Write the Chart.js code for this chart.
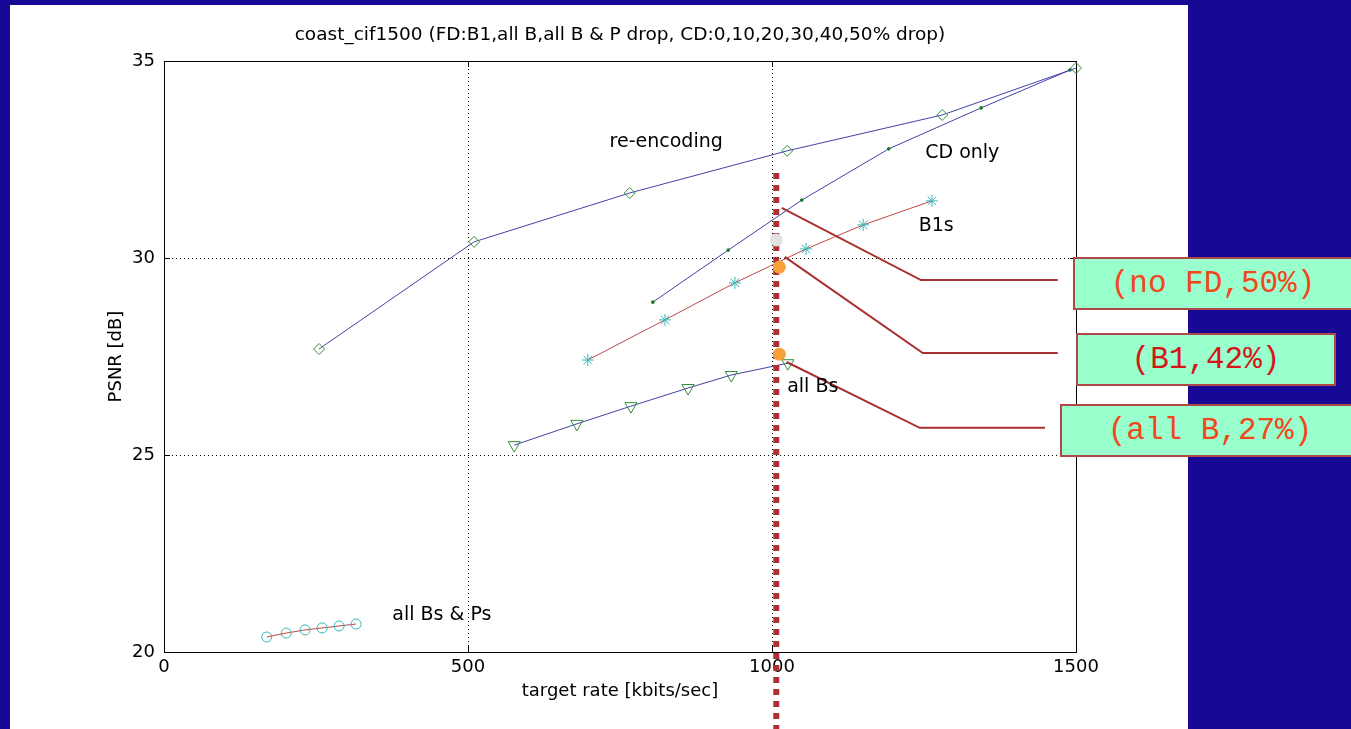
<!DOCTYPE html>
<html>
<head>
<meta charset="utf-8">
<title>coast_cif1500</title>
<script src="https://cdn.jsdelivr.net/npm/chart.js@4.4.0/dist/chart.umd.min.js"></script>
<style>
  html, body { margin: 0; padding: 0; }
  body { width: 1351px; height: 729px; background: #180896; position: relative; overflow: hidden; }
  #panel { position: absolute; left: 10px; top: 5px; width: 1178px; height: 724px; background: #fff; }
  #chart { position: absolute; left: 0; top: 0; }
  .callout {
    position: absolute; box-sizing: border-box; height: 53px; line-height: 49px;
    background: #99ffcc; border: 2px solid #b04848;
    font-family: "Liberation Mono", "Courier New", monospace; font-size: 31px;
    text-align: center; color: #f2461c; white-space: pre;
  }
</style>
</head>
<body>
<div id="panel"></div>
<canvas id="chart" width="1351" height="729"></canvas>
<div class="callout" style="left:1073px; top:257px; width:280px;">(no FD,50%)</div>
<div class="callout" style="left:1076px; top:333px; width:260px; color:#d41616;">(B1,42%)</div>
<div class="callout" style="left:1060px; top:404px; width:300px;">(all B,27%)</div>
<script>
// PSNR vs target rate
const reencRate = [255, 510, 766, 1025, 1280, 1500];
const reencPsnr = [27.69, 30.41, 31.65, 32.72, 33.63, 34.82];

const cdRate = [804, 928, 1049, 1192, 1344, 1490];
const cdPsnr = [28.88, 30.20, 31.47, 32.77, 33.81, 34.77];

const b1Rate = [697, 824, 939, 1056, 1150, 1263];
const b1Psnr = [27.41, 28.43, 29.37, 30.23, 30.84, 31.45];

const allBRate = [576, 679, 768, 862, 933, 1026];
const allBPsnr = [25.25, 25.79, 26.24, 26.70, 27.03, 27.33];

const allBPRate = [169, 201, 232, 260, 288, 316];
const allBPPsnr = [20.38, 20.48, 20.56, 20.61, 20.66, 20.71];

// overlay: 1000 kbit/s marker line and highlighted points
const dropRate = [1007, 1007];
const dropPsnr = [32.16, 18.0];
const markRate = [1007, 1012, 1012];
const markPsnr = [30.46, 29.77, 27.56];

const call1Rate = [1016, 1245, 1470];
const call1Psnr = [31.27, 29.44, 29.44];
const call2Rate = [1021, 1248, 1470];
const call2Psnr = [30.03, 27.59, 27.59];
const call3Rate = [1024, 1243, 1449];
const call3Psnr = [27.36, 25.69, 25.69];

// in-plot text labels
const labelText = ['re-encoding', 'CD only', 'B1s', 'all Bs', 'all Bs & Ps'];
const labelRate = [826, 1313, 1270, 1067, 457];
const labelPsnr = [32.94, 32.66, 30.81, 26.73, 20.94];

const xTicks = [0, 500, 1000, 1500];
const yTicks = [20, 25, 30, 35];

const FONT = '"DejaVu Sans", sans-serif';

function pts(xs, ys) {
  return xs.map((x, i) => ({x: x, y: ys[i]}));
}

// frame, inward ticks and title
const framePlugin = {
  id: 'frame',
  beforeDatasetsDraw(chart) {
    const {ctx, chartArea: a, scales} = chart;
    ctx.save();
    ctx.strokeStyle = '#000';
    ctx.lineWidth = 1;
    ctx.strokeRect(a.left + 0.5, a.top + 0.5, a.right - a.left, a.bottom - a.top);
    ctx.beginPath();
    xTicks.forEach(v => {
      const px = Math.round(scales.x.getPixelForValue(v)) + 0.5;
      ctx.moveTo(px, a.bottom); ctx.lineTo(px, a.bottom - 6);
      ctx.moveTo(px, a.top); ctx.lineTo(px, a.top + 6);
    });
    yTicks.forEach(v => {
      const py = Math.round(scales.y.getPixelForValue(v)) + 0.5;
      ctx.moveTo(a.left, py); ctx.lineTo(a.left + 6, py);
      ctx.moveTo(a.right, py); ctx.lineTo(a.right - 6, py);
    });
    ctx.stroke();

    ctx.fillStyle = '#000';
    ctx.font = '18.5px ' + FONT;
    ctx.textAlign = 'center';
    ctx.textBaseline = 'middle';
    ctx.fillText('coast_cif1500 (FD:B1,all B,all B & P drop, CD:0,10,20,30,40,50% drop)',
      (a.left + a.right) / 2, 35);
    ctx.restore();
  },
  afterDatasetsDraw(chart) {
    const {ctx, scales} = chart;
    ctx.save();
    ctx.fillStyle = '#000';
    ctx.font = '19px ' + FONT;
    ctx.textAlign = 'center';
    ctx.textBaseline = 'middle';
    labelText.forEach((t, i) => {
      ctx.fillText(t, scales.x.getPixelForValue(labelRate[i]), scales.y.getPixelForValue(labelPsnr[i]));
    });
    ctx.restore();
  }
};

const innerGrid = (lo, hi) => c => (c.tick && c.tick.value > lo && c.tick.value < hi) ? '#000' : 'rgba(0,0,0,0)';

const lineBlue = '#4242a6';
const lineRed = '#c24646';
const mkGreen = '#2f8f3a';
const mkCyan = '#33b8b8';
const calloutRed = '#a83030';

new Chart(document.getElementById('chart'), {
  type: 'scatter',
  data: {
    datasets: [
      {data: pts(markRate, markPsnr), showLine: false, pointRadius: 6.5, pointBorderWidth: 0,
       pointBackgroundColor: ['#e2e2e2', '#f8a03a', '#f8a03a'], order: 0},
      {data: pts(call1Rate, call1Psnr), showLine: true, borderColor: calloutRed, borderWidth: 2, pointRadius: 0, order: 1},
      {data: pts(call2Rate, call2Psnr), showLine: true, borderColor: calloutRed, borderWidth: 2, pointRadius: 0, order: 1},
      {data: pts(call3Rate, call3Psnr), showLine: true, borderColor: calloutRed, borderWidth: 2, pointRadius: 0, order: 1},
      {data: pts(dropRate, dropPsnr), showLine: true, borderColor: '#b03030', borderWidth: 6,
       borderDash: [6, 6], pointRadius: 0, order: 2},
      {label: 're-encoding', data: pts(reencRate, reencPsnr), showLine: true, borderColor: lineBlue, borderWidth: 1,
       pointStyle: 'rectRot', pointRadius: 5.5, pointBorderColor: mkGreen, pointBackgroundColor: 'rgba(0,0,0,0)',
       pointBorderWidth: 1, order: 3},
      {label: 'CD only', data: pts(cdRate, cdPsnr), showLine: true, borderColor: lineBlue, borderWidth: 1,
       pointStyle: 'circle', pointRadius: 1.8, pointBorderWidth: 0, pointBackgroundColor: '#157a20', order: 3},
      {label: 'B1s', data: pts(b1Rate, b1Psnr), showLine: true, borderColor: lineRed, borderWidth: 1,
       pointStyle: 'star', pointRadius: 6, pointBorderColor: mkCyan, pointBorderWidth: 1, order: 3},
      {label: 'all Bs', data: pts(allBRate, allBPsnr), showLine: true, borderColor: lineBlue, borderWidth: 1,
       pointStyle: 'triangle', pointRotation: 180, pointRadius: 7, pointBorderColor: mkGreen,
       pointBackgroundColor: 'rgba(0,0,0,0)', pointBorderWidth: 1, order: 3},
      {label: 'all Bs & Ps', data: pts(allBPRate, allBPPsnr), showLine: true, borderColor: lineRed, borderWidth: 1,
       pointStyle: 'circle', pointRadius: 5, pointBorderColor: mkCyan, pointBackgroundColor: 'rgba(0,0,0,0)',
       pointBorderWidth: 1, order: 3}
    ].map(d => Object.assign({clip: false}, d))
  },
  options: {
    responsive: false,
    animation: false,
    devicePixelRatio: 1,
    layout: {padding: {left: 100, right: 275, top: 61, bottom: 0}},
    plugins: {legend: {display: false}, tooltip: {enabled: false}},
    scales: {
      x: {
        type: 'linear', min: 0, max: 1500,
        ticks: {stepSize: 500, color: '#000', font: {family: FONT, size: 18}, padding: 5, maxRotation: 0,
                callback: v => String(v)},
        grid: {drawTicks: false, color: innerGrid(0, 1500), lineWidth: 1},
        border: {display: false, dash: [1, 3]},
        title: {display: true, text: 'target rate [kbits/sec]', color: '#000',
                font: {family: FONT, size: 18}, padding: {top: 0, bottom: 27}},
        afterFit(s) { s.height = 77; }
      },
      y: {
        type: 'linear', min: 20, max: 35,
        ticks: {stepSize: 5, color: '#000', font: {family: FONT, size: 18}, padding: 9,
                callback: v => String(v)},
        grid: {drawTicks: false, color: innerGrid(20, 35), lineWidth: 1},
        border: {display: false, dash: [1, 3]},
        title: {display: true, text: 'PSNR [dB]', color: '#000',
                font: {family: FONT, size: 18}, padding: {top: 6, bottom: 0}},
        afterFit(s) { s.width = 64; }
      }
    }
  },
  plugins: [framePlugin]
});
</script>
</body>
</html>
